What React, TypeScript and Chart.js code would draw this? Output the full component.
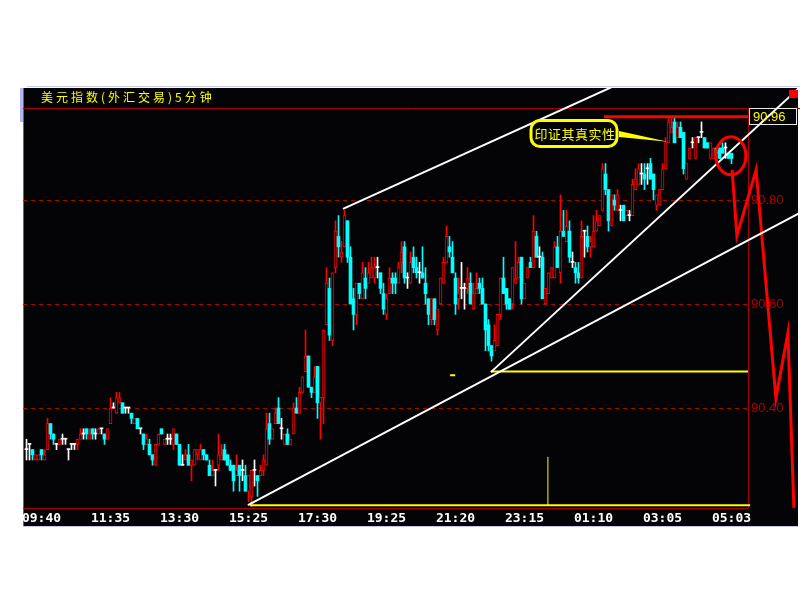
import { useEffect, useRef } from "react";
import { Chart, registerables } from "chart.js";

Chart.register(...registerables);

// ---- text ----
const TITLE = "美元指数(外汇交易)5分钟";
const NOTE = "印证其真实性";

// ---- 5-minute candles (bar index = position in arrays) ----
const OPEN = [
  90.32, 90.33, 90.32, 90.30, 90.30, 90.32, 90.30, 90.32, 90.37, 90.35,
  90.33, 90.33, 90.34, 90.34, 90.32, 90.33, 90.33, 90.33, 90.34, 90.35,
  90.36, 90.34, 90.36, 90.35, 90.35, 90.36, 90.35, 90.34, 90.37, 90.40,
  90.39, 90.41, 90.41, 90.40, 90.40, 90.39, 90.37, 90.38, 90.36, 90.35,
  90.33, 90.33, 90.31, 90.29, 90.33, 90.36, 90.33, 90.34, 90.34, 90.33,
  90.35, 90.33, 90.29, 90.30, 90.31, 90.29, 90.29, 90.31, 90.30, 90.32,
  90.31, 90.29, 90.27, 90.28, 90.29, 90.30, 90.32, 90.31, 90.29, 90.29,
  90.27, 90.29, 90.28, 90.27, 90.24, 90.23, 90.28, 90.27, 90.27, 90.28,
  90.29, 90.37, 90.34, 90.37, 90.40, 90.36, 90.33, 90.35, 90.33, 90.35,
  90.40, 90.39, 90.43, 90.47, 90.50, 90.44, 90.43, 90.48, 90.41, 90.42,
  90.56, 90.63, 90.53, 90.67, 90.73, 90.69, 90.71, 90.76, 90.69, 90.61,
  90.58, 90.64, 90.61, 90.65, 90.64, 90.65, 90.65, 90.67, 90.66, 90.62,
  90.58, 90.62, 90.65, 90.65, 90.64, 90.68, 90.71, 90.65, 90.64, 90.69,
  90.67, 90.66, 90.66, 90.64, 90.61, 90.57, 90.61, 90.55, 90.60, 90.64,
  90.68, 90.71, 90.69, 90.65, 90.61, 90.63, 90.63, 90.63, 90.64, 90.59,
  90.62, 90.64, 90.63, 90.60, 90.56, 90.52, 90.51, 90.52, 90.58, 90.65,
  90.63, 90.61, 90.60, 90.64, 90.65, 90.69, 90.61, 90.65, 90.68, 90.67,
  90.73, 90.69, 90.69, 90.60, 90.62, 90.65, 90.65, 90.71, 90.66, 90.74,
  90.72, 90.74, 90.68, 90.67, 90.66, 90.65, 90.74, 90.73, 90.71, 90.71,
  90.74, 90.75, 90.78, 90.85, 90.82, 90.75, 90.80, 90.78, 90.78, 90.79,
  90.77, 90.77, 90.77, 90.82, 90.83, 90.85, 90.85, 90.86, 90.87, 90.85,
  90.79, 90.79, 90.82, 90.86, 90.91, 90.93, 90.95, 90.92, 90.94, 90.93,
  90.84, 90.88, 90.91, 90.88, 90.92, 90.93, 90.92, 90.91, 90.88, 90.88,
  90.90, 90.90, 90.90, 90.90, 90.89, 90.89,
];
const HIGH = [
  90.34, 90.33, 90.32, 90.31, 90.31, 90.32, 90.32, 90.38, 90.37, 90.35,
  90.33, 90.34, 90.35, 90.34, 90.32, 90.33, 90.33, 90.34, 90.36, 90.36,
  90.36, 90.36, 90.36, 90.36, 90.36, 90.36, 90.35, 90.36, 90.42, 90.41,
  90.43, 90.43, 90.41, 90.40, 90.40, 90.39, 90.38, 90.38, 90.36, 90.35,
  90.35, 90.34, 90.31, 90.33, 90.35, 90.36, 90.34, 90.35, 90.35, 90.36,
  90.35, 90.33, 90.31, 90.32, 90.33, 90.30, 90.32, 90.32, 90.33, 90.32,
  90.31, 90.30, 90.30, 90.28, 90.35, 90.33, 90.33, 90.31, 90.30, 90.29,
  90.31, 90.29, 90.30, 90.29, 90.27, 90.28, 90.30, 90.27, 90.29, 90.31,
  90.39, 90.39, 90.36, 90.40, 90.42, 90.38, 90.35, 90.36, 90.34, 90.41,
  90.42, 90.44, 90.46, 90.55, 90.50, 90.44, 90.48, 90.48, 90.42, 90.55,
  90.67, 90.65, 90.66, 90.76, 90.77, 90.72, 90.78, 90.76, 90.71, 90.63,
  90.64, 90.64, 90.68, 90.67, 90.68, 90.69, 90.69, 90.69, 90.66, 90.64,
  90.62, 90.67, 90.66, 90.66, 90.68, 90.72, 90.72, 90.66, 90.70, 90.71,
  90.69, 90.68, 90.71, 90.67, 90.61, 90.61, 90.61, 90.59, 90.65, 90.69,
  90.75, 90.73, 90.72, 90.66, 90.65, 90.68, 90.64, 90.67, 90.66, 90.64,
  90.66, 90.65, 90.65, 90.60, 90.57, 90.52, 90.56, 90.58, 90.65, 90.69,
  90.63, 90.61, 90.67, 90.72, 90.69, 90.69, 90.64, 90.67, 90.69, 90.77,
  90.74, 90.71, 90.70, 90.63, 90.66, 90.67, 90.72, 90.73, 90.81, 90.78,
  90.78, 90.76, 90.70, 90.68, 90.68, 90.76, 90.74, 90.75, 90.73, 90.77,
  90.78, 90.77, 90.87, 90.87, 90.82, 90.81, 90.81, 90.82, 90.79, 90.79,
  90.78, 90.78, 90.84, 90.86, 90.87, 90.87, 90.87, 90.87, 90.88, 90.85,
  90.81, 90.82, 90.87, 90.92, 90.96, 90.96, 90.96, 90.95, 90.95, 90.93,
  90.87, 90.90, 90.92, 90.92, 90.92, 90.95, 90.92, 90.91, 90.91, 90.90,
  90.90, 90.90, 90.91, 90.91, 90.89, 90.89,
];
const LOW = [
  90.30, 90.30, 90.30, 90.30, 90.30, 90.30, 90.30, 90.32, 90.34, 90.33,
  90.32, 90.33, 90.33, 90.33, 90.30, 90.32, 90.32, 90.32, 90.34, 90.34,
  90.34, 90.34, 90.34, 90.34, 90.35, 90.35, 90.33, 90.34, 90.37, 90.40,
  90.39, 90.41, 90.39, 90.39, 90.39, 90.37, 90.37, 90.36, 90.35, 90.32,
  90.33, 90.31, 90.29, 90.29, 90.33, 90.35, 90.33, 90.33, 90.33, 90.32,
  90.33, 90.29, 90.29, 90.30, 90.29, 90.26, 90.29, 90.30, 90.30, 90.30,
  90.30, 90.27, 90.27, 90.25, 90.28, 90.30, 90.30, 90.29, 90.28, 90.24,
  90.27, 90.24, 90.26, 90.24, 90.22, 90.21, 90.25, 90.23, 90.27, 90.27,
  90.29, 90.33, 90.34, 90.37, 90.37, 90.34, 90.33, 90.33, 90.33, 90.35,
  90.39, 90.39, 90.43, 90.47, 90.44, 90.42, 90.43, 90.38, 90.34, 90.37,
  90.56, 90.53, 90.52, 90.66, 90.69, 90.68, 90.71, 90.68, 90.60, 90.55,
  90.56, 90.61, 90.61, 90.61, 90.64, 90.65, 90.64, 90.65, 90.62, 90.58,
  90.57, 90.62, 90.62, 90.62, 90.64, 90.66, 90.64, 90.63, 90.64, 90.66,
  90.65, 90.64, 90.65, 90.60, 90.56, 90.56, 90.56, 90.54, 90.60, 90.64,
  90.68, 90.69, 90.66, 90.58, 90.59, 90.61, 90.59, 90.62, 90.60, 90.59,
  90.62, 90.62, 90.60, 90.51, 90.51, 90.49, 90.51, 90.52, 90.57, 90.62,
  90.59, 90.59, 90.59, 90.64, 90.65, 90.60, 90.61, 90.65, 90.67, 90.67,
  90.69, 90.67, 90.61, 90.60, 90.62, 90.65, 90.65, 90.67, 90.64, 90.73,
  90.72, 90.68, 90.67, 90.64, 90.64, 90.65, 90.69, 90.70, 90.69, 90.71,
  90.74, 90.75, 90.78, 90.81, 90.74, 90.75, 90.78, 90.78, 90.76, 90.76,
  90.77, 90.76, 90.77, 90.82, 90.83, 90.83, 90.82, 90.83, 90.84, 90.80,
  90.78, 90.79, 90.82, 90.86, 90.91, 90.93, 90.91, 90.92, 90.92, 90.85,
  90.84, 90.88, 90.90, 90.88, 90.91, 90.92, 90.90, 90.90, 90.88, 90.88,
  90.89, 90.88, 90.89, 90.88, 90.88, 90.87,
];
const CLOSE = [
  90.32, 90.33, 90.31, 90.31, 90.31, 90.31, 90.31, 90.37, 90.35, 90.34,
  90.33, 90.34, 90.34, 90.34, 90.32, 90.33, 90.33, 90.34, 90.35, 90.35,
  90.35, 90.35, 90.35, 90.35, 90.36, 90.36, 90.34, 90.36, 90.40, 90.40,
  90.42, 90.42, 90.39, 90.40, 90.40, 90.38, 90.38, 90.36, 90.36, 90.33,
  90.34, 90.31, 90.30, 90.33, 90.35, 90.35, 90.34, 90.34, 90.34, 90.36,
  90.33, 90.29, 90.29, 90.31, 90.29, 90.30, 90.32, 90.32, 90.32, 90.31,
  90.30, 90.27, 90.28, 90.28, 90.31, 90.31, 90.30, 90.29, 90.28, 90.26,
  90.28, 90.27, 90.28, 90.24, 90.27, 90.28, 90.28, 90.26, 90.28, 90.30,
  90.36, 90.34, 90.36, 90.39, 90.37, 90.36, 90.35, 90.33, 90.34, 90.40,
  90.39, 90.43, 90.46, 90.50, 90.44, 90.43, 90.46, 90.41, 90.42, 90.55,
  90.64, 90.54, 90.66, 90.74, 90.71, 90.70, 90.77, 90.69, 90.60, 90.58,
  90.64, 90.62, 90.66, 90.63, 90.66, 90.67, 90.67, 90.67, 90.63, 90.59,
  90.61, 90.65, 90.64, 90.64, 90.67, 90.70, 90.65, 90.65, 90.68, 90.67,
  90.66, 90.66, 90.65, 90.62, 90.58, 90.61, 90.57, 90.59, 90.65, 90.68,
  90.73, 90.70, 90.66, 90.60, 90.62, 90.63, 90.63, 90.65, 90.60, 90.62,
  90.63, 90.63, 90.60, 90.55, 90.52, 90.50, 90.53, 90.58, 90.65, 90.62,
  90.60, 90.59, 90.67, 90.65, 90.68, 90.61, 90.64, 90.67, 90.67, 90.74,
  90.69, 90.69, 90.61, 90.63, 90.66, 90.67, 90.71, 90.67, 90.74, 90.73,
  90.75, 90.69, 90.68, 90.66, 90.65, 90.73, 90.74, 90.71, 90.72, 90.74,
  90.76, 90.77, 90.86, 90.82, 90.76, 90.81, 90.79, 90.81, 90.78, 90.76,
  90.78, 90.77, 90.83, 90.84, 90.86, 90.85, 90.84, 90.86, 90.84, 90.82,
  90.81, 90.82, 90.86, 90.91, 90.95, 90.94, 90.91, 90.94, 90.92, 90.86,
  90.87, 90.90, 90.91, 90.92, 90.92, 90.93, 90.90, 90.90, 90.91, 90.90,
  90.89, 90.88, 90.89, 90.90, 90.88, 90.88,
];

// ---- axes ----
const TIME_TICKS = [5, 28, 51, 74, 97, 120, 143, 166, 189, 212, 235];
const TIME_LABELS = ["09:40", "11:35", "13:30", "15:25", "17:30", "19:25", "21:20", "23:15", "01:10", "03:05", "05:03"];
const PRICE_TICKS = [90.4, 90.6, 90.8];
const DAY_HIGH = 90.96;

// ---- hand-drawn studies, as [bar index, price] ----
const UPPER_CHANNEL = [[105.5, 90.783], [200, 91.03]];
const LOWER_CHANNEL = [[73.8, 90.213], [258, 90.776]];
const RISING_TREND = [[154.8, 90.469], [258, 91.018]];
const SUPPORT_LINE = [[154.8, 90.47], [240.5, 90.47]];
const SUPPORT_TICK = [[141.2, 90.463], [142.9, 90.463]];
const BASE_LINE = [[74.5, 90.213], [241.2, 90.213]];
const MARK_LINE = [[173.8, 90.213], [173.8, 90.306]];
const HIGH_LINE = [[192.5, DAY_HIGH], [240.5, DAY_HIGH]];
const PROJECTION = [[235.2, 90.858], [236.8, 90.731], [243.2, 90.858], [249.8, 90.419], [253.8, 90.544], [255.8, 90.208]];
const RING_CENTER = [234.8, 90.885];
const NOTE_TIP = [213.8, 90.912];

// visible bar range of the time axis
const FIRST_SLOT = -3.5 / 3;
const LAST_SLOT = FIRST_SLOT + 725 / 3;

// ---- palette ----
const PANEL = "#040306";
const UP = "#ff0000";
const DOWN = "#00ffff";
const FLAT = "#ffffff";
const GRID = "#b00000";
const YELLOW = "#ffff00";

const studyLine = (pts: number[][], color: string, width: number) => ({
  type: "line" as const,
  data: pts.map(([x, y]) => ({ x, y })),
  borderColor: color,
  borderWidth: width,
  pointRadius: 0,
  fill: false,
  tension: 0,
  order: 0,
  clip: { left: 0, top: 20, right: 50, bottom: 0 },
});

const pinTimeRange = (s: any) => {
  s.min = FIRST_SLOT;
  s.max = LAST_SLOT;
};

const decor = {
  id: "decor",
  beforeDraw(chart: any) {
    const { ctx } = chart;
    ctx.save();
    ctx.fillStyle = "#ffffff";
    ctx.fillRect(0, 0, chart.width, chart.height);
    ctx.fillStyle = PANEL;
    ctx.fillRect(23, 88, 775, 439);
    // window edges
    ctx.fillStyle = "#c8c8ec";
    ctx.fillRect(27, 86, 773, 1);
    ctx.fillRect(23, 526, 775, 1);
    ctx.fillStyle = "#b4b4f0";
    ctx.fillRect(20, 88, 3, 34);
    ctx.fillStyle = "#6a6a5a";
    ctx.fillRect(23, 88, 1, 438);
    ctx.restore();
  },
  beforeDatasetsDraw(chart: any) {
    const { ctx, chartArea: a } = chart;
    const ys = chart.scales.y;
    ctx.save();
    ctx.strokeStyle = GRID;
    ctx.lineWidth = 1;
    ctx.setLineDash([4, 4]);
    ctx.beginPath();
    for (const p of PRICE_TICKS) {
      const y = Math.round(ys.getPixelForValue(p)) + 0.5;
      ctx.moveTo(a.left, y);
      ctx.lineTo(a.right, y);
    }
    ctx.stroke();
    ctx.setLineDash([]);
    ctx.strokeStyle = "#a80000";
    ctx.beginPath();
    ctx.moveTo(a.left, a.top + 0.5);
    ctx.lineTo(chart.width, a.top + 0.5);
    ctx.moveTo(a.left, a.bottom + 0.5);
    ctx.lineTo(a.right, a.bottom + 0.5);
    ctx.moveTo(a.right + 0.5, a.top);
    ctx.lineTo(a.right + 0.5, a.bottom);
    ctx.stroke();
    ctx.restore();
  },
  afterDatasetsDraw(chart: any) {
    const { ctx } = chart;
    const xs = chart.scales.x;
    const ys = chart.scales.y;
    ctx.save();

    // title
    ctx.fillStyle = YELLOW;
    ctx.font = '12px "Noto Sans CJK SC"';
    ctx.textBaseline = "middle";
    ctx.textAlign = "left";
    (ctx as any).letterSpacing = "3px";
    ctx.fillText(TITLE, 41, 97);
    (ctx as any).letterSpacing = "0px";

    // ring around the latest bars
    ctx.strokeStyle = UP;
    ctx.lineWidth = 3;
    ctx.beginPath();
    ctx.ellipse(xs.getPixelForValue(RING_CENTER[0]), ys.getPixelForValue(RING_CENTER[1]), 15, 19, 0, 0, Math.PI * 2);
    ctx.stroke();

    // callout
    const tx = xs.getPixelForValue(NOTE_TIP[0]);
    const ty = ys.getPixelForValue(NOTE_TIP[1]);
    ctx.fillStyle = YELLOW;
    ctx.beginPath();
    ctx.moveTo(619, 131);
    ctx.lineTo(tx, ty);
    ctx.lineTo(619, 137);
    ctx.closePath();
    ctx.fill();
    ctx.strokeStyle = YELLOW;
    ctx.lineWidth = 3;
    ctx.fillStyle = PANEL;
    ctx.beginPath();
    ctx.roundRect(531, 120.5, 86, 26, 9);
    ctx.fill();
    ctx.stroke();
    ctx.fillStyle = YELLOW;
    ctx.font = '13px "Noto Sans CJK SC"';
    ctx.textAlign = "center";
    (ctx as any).letterSpacing = "0.5px";
    ctx.fillText(NOTE, 575, 134);
    (ctx as any).letterSpacing = "0px";

    // day-high tag on the price axis
    const hy = Math.round(ys.getPixelForValue(DAY_HIGH));
    ctx.strokeStyle = "#e8e8e8";
    ctx.lineWidth = 1;
    ctx.strokeRect(749.5, hy - 8.5, 47, 16);
    ctx.fillStyle = YELLOW;
    ctx.font = '13px "Liberation Sans Narrow", "Liberation Sans", sans-serif';
    ctx.textAlign = "left";
    ctx.fillText(DAY_HIGH.toFixed(2), 753, hy);

    // corner marker
    ctx.fillStyle = UP;
    ctx.fillRect(789, 90, 9, 8);
    ctx.restore();
  },
};

export default function App() {
  const ref = useRef<HTMLCanvasElement | null>(null);

  useEffect(() => {
    const canvas = ref.current;
    if (!canvas) return;
    const bars = OPEN.map((_, i) => i);
    const dir = OPEN.map((o, i) => (CLOSE[i] > o ? 1 : CLOSE[i] < o ? -1 : 0));
    const tone = dir.map((d) => (d > 0 ? UP : d < 0 ? DOWN : FLAT));

    const chart = new Chart(canvas, {
      type: "bar",
      data: {
        datasets: [
          {
            type: "bar",
            label: "wick",
            data: bars.map((i) => ({ x: i, y: [LOW[i], HIGH[i]] })) as any,
            backgroundColor: tone,
            borderWidth: 0,
            barThickness: 1,
            grouped: false,
            minBarLength: 1,
            order: 3,
          },
          {
            type: "bar",
            label: "body",
            data: bars.map((i) => ({ x: i, y: [OPEN[i], CLOSE[i]] })) as any,
            backgroundColor: dir.map((d) => (d > 0 ? PANEL : d < 0 ? DOWN : FLAT)),
            borderColor: tone,
            borderWidth: dir.map((d) => (d > 0 ? 1 : 0)),
            borderSkipped: false,
            barThickness: 3,
            grouped: false,
            minBarLength: 1,
            order: 2,
          },
          studyLine(UPPER_CHANNEL, "#ffffff", 2),
          studyLine(LOWER_CHANNEL, "#ffffff", 2),
          studyLine(RISING_TREND, "#ffffff", 2),
          studyLine(SUPPORT_LINE, YELLOW, 2),
          studyLine(SUPPORT_TICK, YELLOW, 2),
          studyLine(BASE_LINE, YELLOW, 2),
          studyLine(MARK_LINE, YELLOW, 1),
          studyLine(HIGH_LINE, UP, 3),
          studyLine(PROJECTION, UP, 3),
        ] as any,
      },
      options: {
        responsive: false,
        animation: false,
        events: [],
        layout: { padding: { left: 23, top: 108, right: 0, bottom: 0 } },
        plugins: { legend: { display: false }, tooltip: { enabled: false } },
        scales: {
          x: {
            type: "linear",
            offset: false,
            bounds: "data",
            // range pinned after the data limits, so study lines past the last bar still draw
            afterDataLimits: pinTimeRange,
            afterBuildTicks: (s: any) => {
              s.ticks = TIME_TICKS.map((value) => ({ value }));
              pinTimeRange(s);
            },
            afterFit: (s: any) => {
              s.height = 92;
            },
            grid: { display: false, drawTicks: false },
            border: { display: false },
            ticks: {
              autoSkip: false,
              maxRotation: 0,
              minRotation: 0,
              padding: 3,
              color: "#ffffff",
              font: { family: '"DejaVu Sans Mono", monospace', size: 13, weight: "bold" },
              callback: (_v: any, i: number) => TIME_LABELS[i] ?? "",
            },
          },
          y: {
            type: "linear",
            position: "right",
            min: 90.8 - 308 / 520,
            max: 90.8 + 92 / 520,
            grid: { display: false, drawTicks: false },
            border: { display: false },
            afterBuildTicks: (s: any) => {
              s.ticks = PRICE_TICKS.map((value) => ({ value }));
            },
            afterFit: (s: any) => {
              s.width = 52;
            },
            ticks: {
              padding: 3,
              color: GRID,
              font: { family: '"Liberation Sans Narrow", "Liberation Sans", sans-serif', size: 13 },
              callback: (v: any) => Number(v).toFixed(2),
            },
          },
        },
      },
      plugins: [decor],
    });
    return () => chart.destroy();
  }, []);

  return (
    <div style={{ position: "fixed", left: 0, top: 0, width: 800, height: 600 }}>
      <canvas ref={ref} width={800} height={600} style={{ width: 800, height: 600, display: "block" }} />
    </div>
  );
}
